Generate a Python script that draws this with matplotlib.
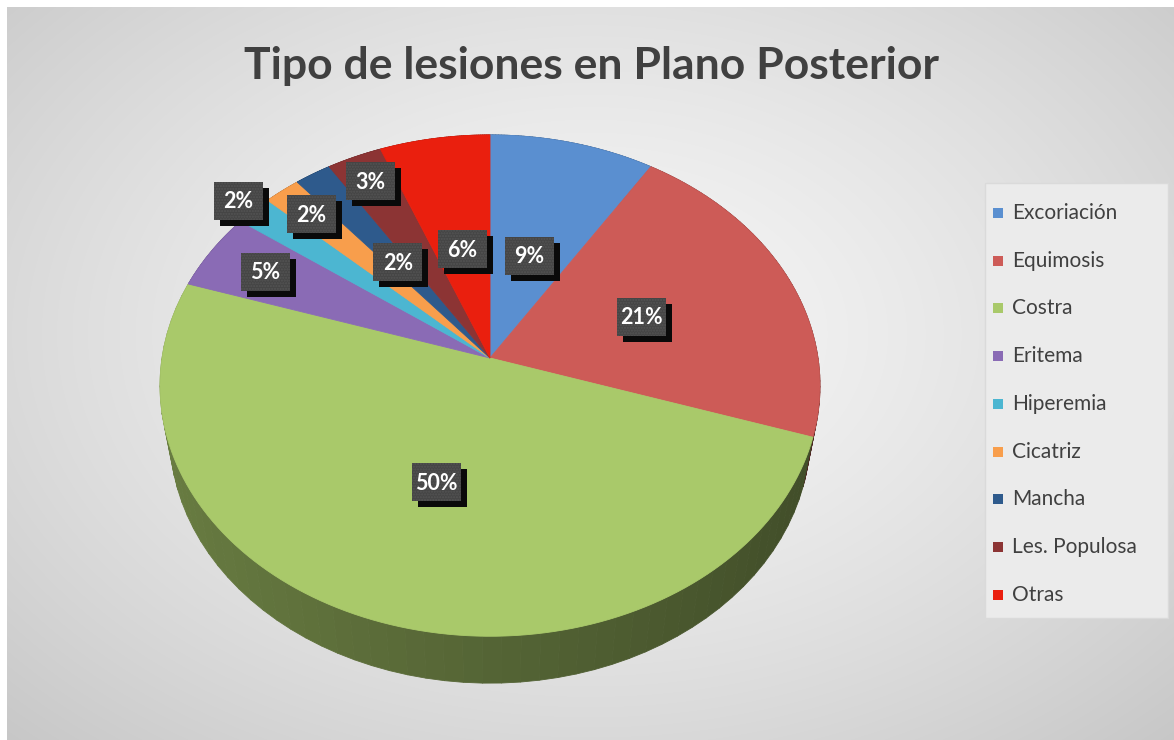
import numpy as np
import matplotlib
matplotlib.use("Agg")
import matplotlib.pyplot as plt
from matplotlib.patches import Polygon, Rectangle
from matplotlib.collections import PolyCollection

titulo = "Tipo de lesiones en Plano Posterior"
categorias = ["Excoriación", "Equimosis", "Costra", "Eritema", "Hiperemia",
              "Cicatriz", "Mancha", "Les. Populosa", "Otras"]
porcentajes = [9, 21, 50, 5, 2, 2, 2, 3, 6]
colores = ["#5a8fd0", "#cd5b57", "#a9c96a", "#8a6bb5", "#4cb6d1",
           "#f89e4c", "#2e5a8c", "#8c3434", "#ea1f0e"]
# radio relativo donde va cada etiqueta
label_r = [0.45, 0.5, 0.5, 0.8, 1.07, 0.85, 0.5, 0.87, 0.47]

W, H = 1174, 740
fig = plt.figure(figsize=(W / 100, H / 100), dpi=100)
ax = fig.add_axes([0, 0, 1, 1])
ax.set_xlim(0, W)
ax.set_ylim(H, 0)
ax.axis("off")

# fondo gris con centro claro
yy, xx = np.mgrid[0:H, 0:W]
rr = np.sqrt(((xx - 587) / 587) ** 2 + ((yy - 330) / 400) ** 2) / np.sqrt(2)
g = (246 - 46 * rr ** 1.4) / 255
bg = np.dstack([g, g, g])
ax.imshow(bg, extent=(7, W, H, 7), zorder=0, interpolation="bilinear")

# proyeccion de la tarta 3D
cx, cy, R = 490, 358, 328
c, s, d, h = 0.755, 0.656, 5.96, 0.24


def proj(u, v, w):
    depth = v * s - w * c
    f = d / (d + depth)
    return cx + R * u * f, cy - R * (v * c + w * s) * f


def shade(col, k):
    rgb = np.array(matplotlib.colors.to_rgb(col))
    return tuple(np.clip(rgb * k, 0, 1))


total = sum(porcentajes)
bordes = np.concatenate([[0], np.cumsum(porcentajes)]) / total * 2 * np.pi

# paredes laterales
quads, qcols = [], []
for i, col in enumerate(colores):
    t = np.linspace(bordes[i], bordes[i + 1], 60)
    for a, b in zip(t[:-1], t[1:]):
        p1 = proj(np.sin(a), np.cos(a), 0)
        p2 = proj(np.sin(b), np.cos(b), 0)
        p3 = proj(np.sin(b), np.cos(b), -h)
        p4 = proj(np.sin(a), np.cos(a), -h)
        quads.append([p1, p2, p3, p4])
        m = (a + b) / 2
        qcols.append(shade(col, 0.5 - 0.12 * np.sin(m)))
ax.add_collection(PolyCollection(quads, facecolors=qcols, edgecolors=qcols,
                                 linewidths=0.6, zorder=2))

# caras superiores
for i, col in enumerate(colores):
    t = np.linspace(bordes[i], bordes[i + 1], 120)
    pts = [proj(0, 0, 0)] + [proj(np.sin(a), np.cos(a), 0) for a in t]
    ax.add_patch(Polygon(pts, closed=True, facecolor=col, edgecolor=col,
                         linewidth=0.6, zorder=3))

# etiquetas de porcentaje
bw, bh = 49, 38
for i, p in enumerate(porcentajes):
    m = (bordes[i] + bordes[i + 1]) / 2
    r = label_r[i]
    x, y = proj(r * np.sin(m), r * np.cos(m), 0)
    ax.add_patch(Rectangle((x - bw / 2 + 6, y - bh / 2 + 6), bw, bh,
                           facecolor="#0a0a0a", linewidth=0, zorder=4))
    ax.add_patch(Rectangle((x - bw / 2, y - bh / 2), bw, bh,
                           facecolor="#454545", edgecolor="#545454",
                           hatch="......", linewidth=0, zorder=5))
    ax.text(x, y + 1, f"{p}%", color="white", fontsize=15.5,
            fontweight="bold", family="Lato", ha="center", va="center",
            zorder=6)

# titulo
ax.text(591, 66, titulo, fontsize=32, fontweight="bold", family="Lato",
        color="#404040", ha="center", va="center", zorder=6)

# leyenda
ax.add_patch(Rectangle((985, 183), 183, 435, facecolor="#ebebeb",
                       edgecolor="#dadada", linewidth=1, zorder=4))
for i, (nom, col) in enumerate(zip(categorias, colores)):
    yl = 213 + 47.7 * i
    ax.add_patch(Rectangle((993, yl - 5), 10, 10, facecolor=col,
                           linewidth=0, zorder=5))
    ax.text(1012, yl, nom, fontsize=15, family="Lato", color="#404040",
            ha="left", va="center", zorder=6)

fig.savefig("out.png", dpi=100, facecolor="white")
